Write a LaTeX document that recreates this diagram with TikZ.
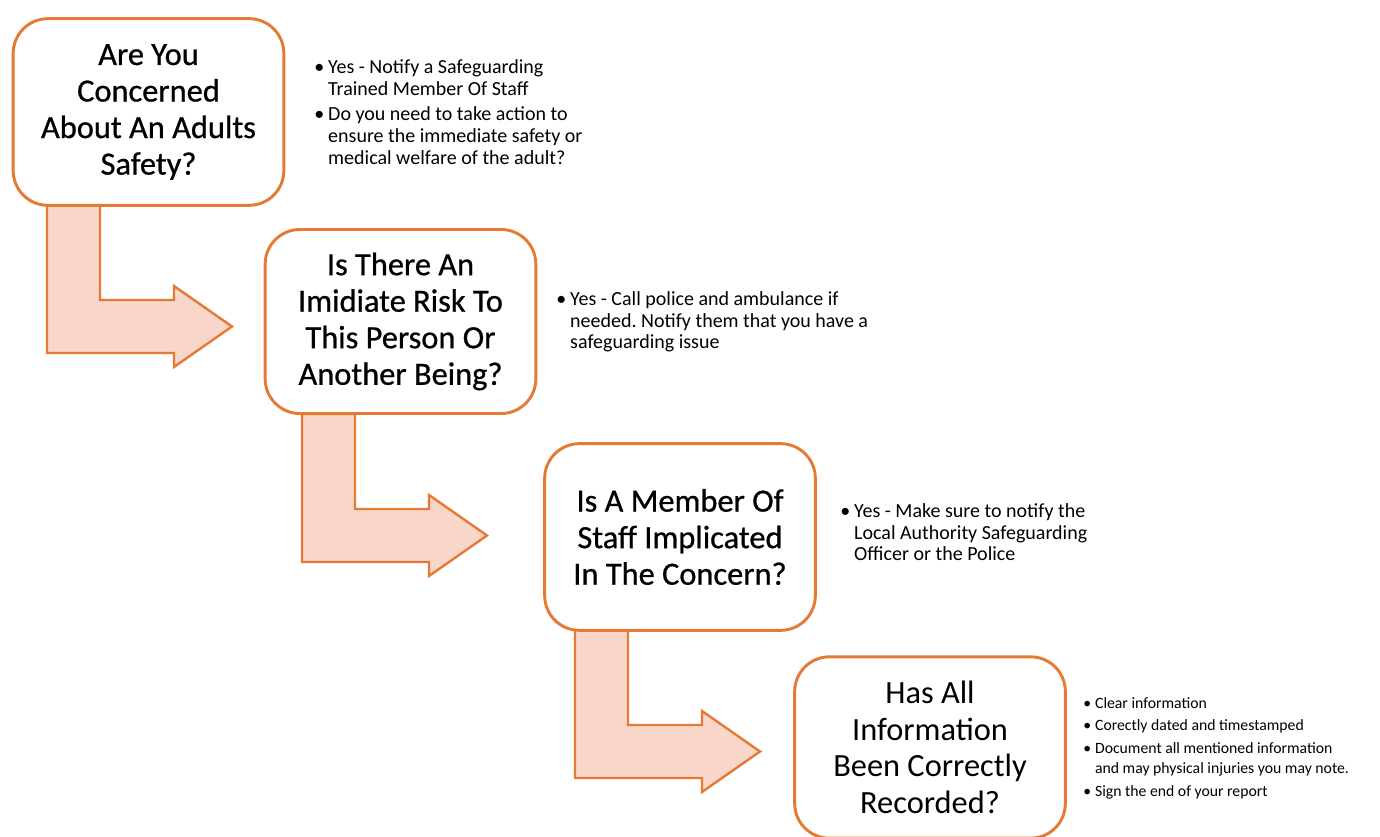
\documentclass[tikz,border=0pt]{standalone}
\usepackage{fontspec}
\setmainfont{Carlito}
\newfontfamily\boxfont{Carlito}[FakeBold=0.7]
\usetikzlibrary{calc}
\frenchspacing
\definecolor{edge}{RGB}{229,122,52}
\definecolor{peach}{RGB}{248,214,201}
\tikzset{
  question/.style={draw=edge, line width=2.2pt, rounded corners=26pt, fill=white,
    minimum width=203pt, minimum height=140pt, align=center,
    font=\boxfont\fontsize{24.3}{27.4}\selectfont},
  lastquestion/.style={question, font=\fontsize{24.3}{27.4}\selectfont},
  bentarrow/.style={draw=edge, line width=1.8pt, fill=peach, line join=miter},
  notes/.style={anchor=north west, inner sep=0pt, align=left,
    font=\fontsize{15}{16.3}\selectfont},
  smallnotes/.style={notes, font=\fontsize{11.8}{15}\selectfont}
}
\newcommand\bentshape[1]{%
  \draw[bentarrow] (#1) -- ++(53,0) -- ++(0,95) -- ++(74,0) -- ++(0,-14)
    -- ++(58,40.5) -- ++(-58,40.5) -- ++(0,-14) -- ++(-127,0) -- cycle;}
\begin{document}
\begin{tikzpicture}[x=0.75pt,y=-0.75pt]
  \useasboundingbox (0,0) rectangle (1380,837);
  \clip (0,0) rectangle (1380,837);

  % the four questions
  \coordinate (p1) at (148.5,112);
  \coordinate (p2) at (400.5,321.5);
  \coordinate (p3) at (680,537);
  \coordinate (p4) at (930,747.5);

  % arrows go under the boxes
  \path (p1) ++(-101.5,93) coordinate (a1);
  \path (p2) ++(-98.5,92.5) coordinate (a2);
  \path (p3) ++(-105,93) coordinate (a3);
  \bentshape{a1}
  \bentshape{a2}
  \bentshape{a3}

  \node[question] (q1) at (p1) {Are You\\Concerned\\About An Adults\\Safety?};
  \node[question, minimum height=138pt] (q2) at (p2) {Is There An\\Imidiate Risk To\\This Person Or\\Another Being?};
  \node[question] (q3) at (p3) {Is A Member Of\\Staff Implicated\\In The Concern?};
  \node[lastquestion, minimum height=136pt] (q4) at (p4) {Has All\\Information\\Been Correctly\\Recorded?};

  % notes beside each box
  \node[notes] (n1) at (314,58) {\begin{tabular}{@{}l@{\hspace{3pt}}l@{}}
    \textbullet & Yes - Notify a Safeguarding\\
                & Trained Member Of Staff\\[3pt]
    \textbullet & Do you need to take action to\\
                & ensure the immediate safety or\\
                & medical welfare of the adult?
  \end{tabular}};
  \node[notes] (n2) at (556,290) {\begin{tabular}{@{}l@{\hspace{3pt}}l@{}}
    \textbullet & Yes - Call police and ambulance if\\
                & needed. Notify them that you have a\\
                & safeguarding issue
  \end{tabular}};
  \node[notes] (n3) at (840,502) {\begin{tabular}{@{}l@{\hspace{3pt}}l@{}}
    \textbullet & Yes - Make sure to notify the\\
                & Local Authority Safeguarding\\
                & Officer or the Police
  \end{tabular}};
  \node[smallnotes] (n4) at (1083,694) {\begin{tabular}{@{}l@{\hspace{3pt}}l@{}}
    \textbullet & Clear information\\[2pt]
    \textbullet & Corectly dated and timestamped\\[2pt]
    \textbullet & Document all mentioned information\\
                & and may physical injuries you may note.\\[2pt]
    \textbullet & Sign the end of your report
  \end{tabular}};
\end{tikzpicture}
\end{document}
